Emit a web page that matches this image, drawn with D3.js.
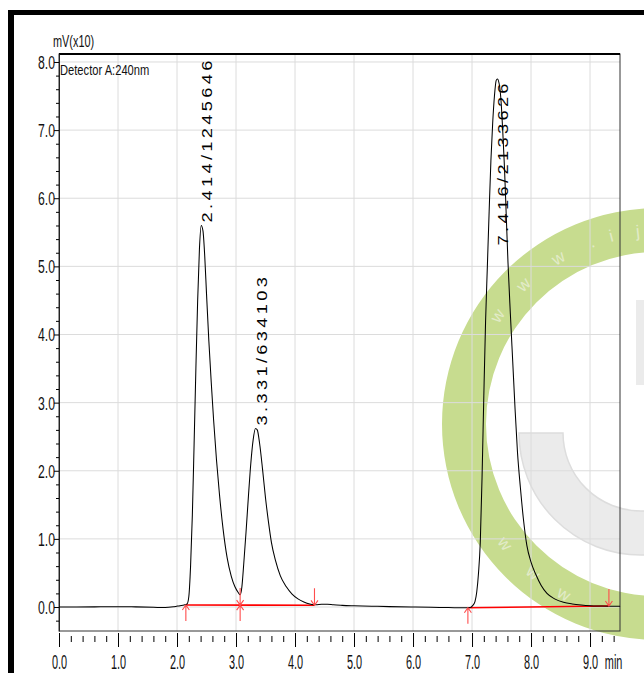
<!DOCTYPE html>
<html><head><meta charset="utf-8">
<script src="https://cdn.jsdelivr.net/npm/d3@7"></script>
<style>
html,body{margin:0;padding:0;background:#fff;}
svg{display:block;font-family:"Liberation Sans",Arial,sans-serif;}
</style></head><body>
<svg id="c" width="644" height="673"></svg>
<script>
// ---- data ----
const traceTime = [0.00,0.30,0.60,1.00,1.30,1.60,1.80,1.95,2.05,2.12,2.17,2.20,2.23,2.26,2.29,2.32,2.35,2.38,2.41,2.44,2.47,2.50,2.54,2.58,2.62,2.67,2.72,2.78,2.85,2.92,2.98,3.04,3.07,3.10,3.13,3.17,3.21,3.25,3.29,3.33,3.36,3.40,3.45,3.50,3.55,3.60,3.67,3.75,3.85,3.95,4.05,4.15,4.25,4.35,4.45,4.55,4.65,4.80,5.00,5.30,5.60,6.00,6.30,6.60,6.90,6.97,7.01,7.05,7.08,7.11,7.14,7.17,7.20,7.23,7.26,7.29,7.32,7.35,7.38,7.41,7.43,7.46,7.49,7.52,7.55,7.58,7.61,7.65,7.69,7.73,7.77,7.82,7.87,7.93,8.00,8.08,8.17,8.27,8.40,8.55,8.70,8.85,9.00,9.20,9.35,9.51];
const traceValue = [0.000,0.000,0.002,0.004,0.002,-0.004,-0.008,0.005,0.020,0.030,0.045,0.15,0.60,1.35,2.40,3.50,4.50,5.25,5.60,5.52,5.15,4.60,3.90,3.30,2.75,2.15,1.65,1.15,0.72,0.45,0.30,0.21,0.18,0.30,0.62,1.10,1.62,2.10,2.45,2.62,2.60,2.40,2.02,1.60,1.25,0.95,0.68,0.46,0.30,0.19,0.12,0.075,0.045,0.032,0.040,0.042,0.032,0.024,0.018,0.012,0.006,0.000,-0.004,-0.008,-0.012,-0.008,0.02,0.08,0.22,0.50,0.95,1.90,3.10,4.20,5.00,5.80,6.55,7.10,7.50,7.73,7.75,7.68,7.45,7.00,6.45,5.75,5.05,4.30,3.60,2.90,2.28,1.75,1.30,0.90,0.66,0.48,0.32,0.20,0.12,0.07,0.045,0.03,0.02,0.015,0.012,0.010];

const peakTimes   = [2.414, 3.331, 7.416];
const peakAreas   = [1245646, 634103, 2133626];
const peakHeights = [5.60, 2.62, 7.75];

const segStartTime  = [2.15, 6.93];
const segStartValue = [0.03, -0.01];
const segEndTime    = [4.33, 9.32];
const segEndValue   = [0.025, 0.015];

const upArrowTimes   = [2.15, 3.07, 6.93];
const downArrowTimes = [3.07, 4.33, 9.32];

const xTicks = [0,1,2,3,4,5,6,7,8,9];
const xTickLabels = ["0.0","1.0","2.0","3.0","4.0","5.0","6.0","7.0","8.0","9.0"];
const yTicks = [0,1,2,3,4,5,6,7,8];
const yTickLabels = ["0.0","1.0","2.0","3.0","4.0","5.0","6.0","7.0","8.0"];
const xUnit = "min";
const yUnit = "mV(x10)";
const detectorLabel = "Detector A:240nm";
const wmUpper = ["w","w","w",".","i","j"];
const wmLower = ["w","w","w"];

// ---- layout ----
const svg = d3.select("#c");
const L = 59, R = 620, T = 54, B = 631;
const x = d3.scaleLinear().domain([0, 9.508]).range([L, R]);
const y = d3.scaleLinear().domain([-0.352, 8.117]).range([B, T]);

// watermark
const wm = svg.append("g");
const cx = 658, cy = 424;
wm.append("path").attr("transform",`translate(${cx},${cy})`)
  .attr("d", d3.arc()({innerRadius:172, outerRadius:216, startAngle:0, endAngle:2*Math.PI}))
  .attr("fill","#c7dc8f");
wm.append("path").attr("transform","translate(641,433)")
  .attr("d", d3.arc()({innerRadius:78, outerRadius:122, startAngle:Math.PI/2, endAngle:3*Math.PI/2}))
  .attr("fill","#ebebeb").attr("stroke","#dddddd").attr("stroke-width",1.5);
wm.append("rect").attr("x",636).attr("y",300).attr("width",8).attr("height",85).attr("fill","#ebebeb");
const upAng = [-146,-134,-121,-110,-104,-96];
wmUpper.forEach((c,i)=>{
  const a = upAng[i]*Math.PI/180;
  wm.append("text").attr("text-anchor","middle")
    .attr("transform",`translate(${cx+194*Math.cos(a)},${cy+194*Math.sin(a)}) rotate(${upAng[i]+90})`)
    .attr("dy","0.35em").style("font-size","17px").attr("fill","#e2ebc8").text(c);
});
const loAng = [142,130,119];
wmLower.forEach((c,i)=>{
  const a = loAng[i]*Math.PI/180;
  wm.append("text").attr("text-anchor","middle")
    .attr("transform",`translate(${cx+194*Math.cos(a)},${cy+194*Math.sin(a)}) rotate(${loAng[i]-90})`)
    .attr("dy","0.35em").style("font-size","17px").attr("fill","#e2ebc8").text(c);
});

// outer black border
svg.append("rect").attr("x",8).attr("y",10).attr("width",636).attr("height",5).attr("fill","#000");
svg.append("rect").attr("x",8).attr("y",10).attr("width",6).attr("height",663).attr("fill","#000");

// gridlines
const grid = svg.append("g").attr("stroke","#dcdcdc").attr("stroke-width",1);
xTicks.filter(d=>d>0).forEach(d=>grid.append("line").attr("x1",x(d)).attr("x2",x(d)).attr("y1",T).attr("y2",B));
yTicks.forEach(d=>grid.append("line").attr("x1",L).attr("x2",R).attr("y1",y(d)).attr("y2",y(d)));

// frame
svg.append("rect").attr("x",L).attr("y",T).attr("width",R-L).attr("height",B-T)
  .attr("fill","none").attr("stroke","#333").attr("stroke-width",1);
svg.append("line").attr("x1",L).attr("x2",R).attr("y1",T).attr("y2",T).attr("stroke","#000").attr("stroke-width",2);

// y axis
const yMinor = d3.range(-1, 41).map(i=>i*0.2).filter(v=>Math.abs(v-Math.round(v))>1e-6);
svg.append("g").attr("transform",`translate(${L},0)`)
  .call(d3.axisLeft(y).tickValues(yMinor).tickSize(3).tickSizeOuter(0).tickFormat(""))
  .call(g=>g.select(".domain").remove());
const ya = svg.append("g").attr("transform",`translate(${L},0)`)
  .call(d3.axisLeft(y).tickValues(yTicks).tickSize(5).tickSizeOuter(0).tickFormat((d,i)=>yTickLabels[i]));
ya.select(".domain").attr("stroke","#222");
ya.attr("font-family",null).attr("font-size",null);
ya.selectAll("text").attr("x",0).attr("dy",null).attr("fill","#111")
  .style("font-size","18px").attr("transform","translate(-4,6.4) scale(0.68,1)");

// x axis (tick row below frame)
const xMinor = d3.range(0, 48).map(i=>i*0.2).filter(v=>Math.abs(v-Math.round(v))>1e-6 && v<9.45);
svg.append("g").attr("transform",`translate(0,636)`)
  .call(d3.axisBottom(x).tickValues(xMinor).tickSize(6).tickSizeOuter(0).tickFormat(""))
  .call(g=>g.select(".domain").remove());
const xa = svg.append("g").attr("transform",`translate(0,633)`)
  .call(d3.axisBottom(x).tickValues(xTicks).tickSize(14).tickSizeOuter(0).tickFormat((d,i)=>xTickLabels[i]));
xa.select(".domain").remove();
xa.attr("font-family",null).attr("font-size",null);
xa.selectAll("text").attr("y",0).attr("dy",null).attr("fill","#111")
  .style("font-size","21px").attr("transform","translate(0,36) scale(0.52,1)");

svg.append("text").attr("transform",`translate(${x(9.4)},669) scale(0.52,1)`)
  .attr("text-anchor","middle").style("font-size","21px").attr("fill","#111").text(xUnit);
svg.append("text").attr("transform","translate(53,47) scale(0.66,1)")
  .style("font-size","16.5px").attr("fill","#111").text(yUnit);
svg.append("text").attr("transform","translate(60,75) scale(0.72,1)")
  .style("font-size","15.5px").attr("fill","#111").text(detectorLabel);

// integration baselines
const red = svg.append("g");
segStartTime.forEach((t,i)=>{
  red.append("line").attr("x1",x(t)).attr("y1",y(segStartValue[i]))
    .attr("x2",x(segEndTime[i])).attr("y2",y(segEndValue[i]))
    .attr("stroke","#ff0000").attr("stroke-width",1.6);
});
function baseAt(t){
  for (let i=0;i<segStartTime.length;i++){
    if (t>=segStartTime[i]-1e-9 && t<=segEndTime[i]+1e-9){
      const f=(t-segStartTime[i])/(segEndTime[i]-segStartTime[i]);
      return segStartValue[i]+f*(segEndValue[i]-segStartValue[i]);
    }
  }
  return 0;
}

// trace
const pts = traceTime.map((t,i)=>[t, traceValue[i]]);
svg.append("path").datum(pts)
  .attr("d", d3.line().x(d=>x(d[0])).y(d=>y(d[1])).curve(d3.curveMonotoneX))
  .attr("fill","none").attr("stroke","#000").attr("stroke-width",1.05);

// arrows
const ar = svg.append("g").attr("stroke","#ff4d4d").attr("stroke-width",1.1).attr("fill","none");
upArrowTimes.forEach(t=>{
  const px=x(t), py=y(baseAt(t));
  ar.append("path").attr("d",`M${px},${py+16}L${px},${py}M${px-3.5},${py+5}L${px},${py}L${px+3.5},${py+5}`);
});
downArrowTimes.forEach(t=>{
  const px=x(t), py=y(baseAt(t));
  ar.append("path").attr("d",`M${px},${py-17}L${px},${py}M${px-3.5},${py-5}L${px},${py}L${px+3.5},${py-5}`);
});

// peak labels
peakTimes.forEach((t,i)=>{
  const txt = t.toFixed(3)+"/"+peakAreas[i];
  const el = svg.append("text").style("font-size","14px").style("letter-spacing","2.6px")
    .attr("fill","#000").text(txt);
  const len = el.node().getComputedTextLength()*1.3;
  let start = y(peakHeights[i]) - 3;
  if (start - len < T - 10) start = T + 26 + len;
  el.attr("transform",`translate(${x(t)+11},${start}) rotate(-90) scale(1.3,1)`);
});
</script>
</body></html>
